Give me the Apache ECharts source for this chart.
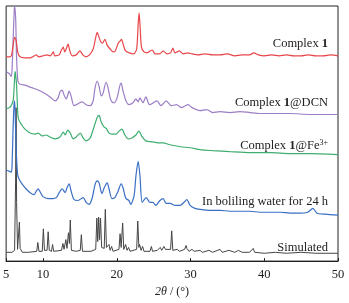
<!DOCTYPE html>
<html><head><meta charset="utf-8">
<script src="https://cdn.jsdelivr.net/npm/echarts@6/dist/echarts.min.js"></script>
<style>html,body{margin:0;padding:0;background:#fff}#c{width:349px;height:303px}</style>
</head><body><div id="c"></div>
<script>
// x: 2θ (°), y: intensity (a.u., offset stacked)
const tickValues = [5, 10, 20, 30, 40, 50];
const seriesNames = ['Complex 1', 'Complex 1@DCN', 'Complex 1@Fe3+', 'In boliling water for 24 h', 'Simulated'];

const complex1 = [[5.0,209],[5.5,209],[5.75,211],[5.95,221],[6.15,229],[6.35,226],[6.6,213],[6.9,209],[7.5,208],[8.3,208],[9.1,211],[9.4,209],[10.0,210],[10.5,211],[11.0,210],[11.4,214],[11.6,210],[12.2,211],[12.5,216],[12.75,219],[12.95,214],[13.15,217],[13.4,222],[13.65,215],[13.95,210],[14.5,211],[15.0,215],[15.4,211],[15.8,209],[16.3,211],[16.8,217],[17.1,227],[17.35,234],[17.6,229],[17.8,225],[18.05,223],[18.4,227],[18.7,221],[19.1,217],[19.5,214],[19.8,215],[20.2,223],[20.45,225],[20.65,227],[20.9,221],[21.2,215],[21.7,213],[22.3,212],[22.7,217],[22.9,242],[23.03,254],[23.15,242],[23.35,219],[23.7,214],[24.1,213],[24.8,216],[25.2,212],[25.8,212],[26.3,215],[26.8,212],[27.3,213],[27.6,218],[27.9,213],[28.5,215],[29.0,212],[29.6,213],[30.2,212],[31.0,211],[32,212],[33,211],[34,211],[35,212],[36,210],[37,211],[38,211],[38.6,213],[39.2,211],[40,210],[41,211],[42,210],[43,211],[44,210],[45,210],[46,211],[47,210],[48,210],[49,211],[50,210]];

const complexDCN = [[5.0,194],[5.4,192],[5.7,189],[5.8,195],[5.95,227],[6.1,257],[6.15,261],[6.3,247],[6.4,212],[6.6,184],[6.9,181],[7.6,180],[8.25,178],[8.65,177],[9.35,175],[10.15,172],[10.95,168],[11.65,164],[12.05,167],[12.3,173],[12.6,175],[12.85,170],[13.15,166],[13.55,174],[13.8,169],[14.2,159],[14.75,161],[15.3,163],[15.85,160],[16.4,159],[16.8,164],[17.05,177],[17.35,184],[17.6,179],[17.9,169],[18.15,172],[18.55,183],[18.8,178],[19.1,167],[19.35,163],[19.65,162],[20.05,167],[20.4,179],[20.6,182],[20.85,174],[21.25,164],[21.65,160],[22.2,162],[22.6,166],[22.9,163],[23.15,167],[23.55,162],[23.95,168],[24.45,160],[25.45,164],[26.0,159],[26.7,164],[27.4,159],[28.1,160],[28.8,157],[29.3,159],[29.7,160],[30.2,157],[31.3,154],[32.2,155],[33.0,152],[34.0,153],[35.35,152],[36.7,153],[38.05,152],[39.4,151],[40.8,151],[43.5,151],[46.2,150],[50,150]];

const complexFe = [[5.0,156],[5.4,157],[5.7,159],[5.9,163],[6.0,167],[6.15,187],[6.2,194],[6.25,193],[6.4,182],[6.6,149],[6.75,144],[7.15,139],[7.55,135],[8.25,131],[8.95,130],[9.35,131],[9.9,128],[10.4,129],[10.95,127],[11.65,125],[12.3,127],[12.75,132],[13.0,129],[13.35,134],[13.7,131],[14.1,125],[14.5,127],[15.05,131],[15.45,126],[15.85,123],[16.4,126],[16.9,137],[17.35,147],[17.6,149],[17.9,142],[18.3,137],[18.55,136],[18.95,131],[19.35,130],[19.9,130],[20.3,133],[20.7,135],[21.1,129],[21.55,125],[22.05,126],[22.6,129],[23.0,133],[23.45,127],[23.95,123],[24.8,122],[25.6,121],[26.3,121],[27.2,119],[28.6,117],[29.95,116],[31.3,114],[33.05,113],[35.35,112],[38.05,111],[40.8,111],[43.5,110],[46.2,110],[50,109]];

const boilingWater = [[5.0,93],[5.4,92],[5.7,91],[5.8,97],[5.95,137],[6.1,164],[6.2,157],[6.35,117],[6.55,89],[6.75,84],[7.15,79],[7.7,74],[8.25,70],[8.8,68],[9.05,71],[9.35,74],[9.6,71],[10.0,66],[10.7,64],[11.35,64],[11.8,65],[12.2,70],[12.6,74],[13.0,70],[13.25,75],[13.55,79],[13.8,72],[14.2,63],[14.75,62],[15.45,65],[15.85,60],[16.25,58],[16.65,64],[17.05,78],[17.35,82],[17.6,80],[18.0,69],[18.3,75],[18.7,80],[18.95,74],[19.35,64],[19.75,65],[20.15,71],[20.6,79],[20.85,75],[21.25,64],[21.65,62],[21.9,58],[22.35,67],[22.6,87],[22.9,102],[23.15,87],[23.45,60],[24.0,65],[24.5,60],[24.9,60],[25.3,57],[25.85,62],[26.3,64],[26.7,59],[27.25,59],[27.9,57],[28.6,57],[29.1,60],[29.5,63],[29.95,57],[30.6,54],[31.3,53],[32.65,52],[34.0,52],[35.35,51],[36.7,51],[38.05,51],[39.4,50],[40.8,50],[42.15,50],[43.5,49],[44.85,49],[45.9,50],[46.6,54],[47.15,49],[48.25,48],[50,47]];

const simulated = [[5.0,9],[5.8,9],[6.15,11],[6.28,80],[6.35,157],[6.42,60],[6.55,12],[6.7,14],[6.8,40],[6.9,13],[7.2,9],[8.0,9],[9.15,10],[9.3,19],[9.45,10],[9.9,10],[10.05,33],[10.2,11],[10.55,11],[10.7,30],[10.85,11],[11.15,10],[11.3,17],[11.45,10],[12.5,11],[12.7,18],[12.85,12],[13.1,22],[13.25,13],[13.45,29],[13.58,18],[13.7,42],[13.85,11],[14.5,10],[15.05,11],[15.2,27],[15.35,10],[16.5,10],[17.15,12],[17.3,44],[17.42,20],[17.55,45],[17.67,22],[17.8,44],[17.95,14],[18.3,13],[18.45,53],[18.6,14],[18.8,12],[18.95,17],[19.1,11],[19.3,15],[19.5,10],[20.3,12],[20.45,28],[20.6,14],[20.8,39],[20.95,12],[21.2,17],[21.4,11],[21.6,14],[21.8,10],[22.7,12],[22.85,41],[23.0,14],[23.1,17],[23.3,11],[23.5,15],[23.7,10],[24.5,10],[24.7,15],[24.85,10],[25.5,11],[25.9,14],[26.1,11],[26.4,15],[26.6,12],[27.3,12],[27.45,31],[27.6,11],[28.2,12],[28.5,10],[29.2,12],[29.4,16],[29.5,13],[29.6,15],[29.8,10],[30.2,12],[30.5,10],[31.3,11],[31.6,9],[32.5,11],[33.0,9],[34.0,12],[34.3,9],[35.2,11],[36.0,9],[36.5,11],[37.0,9],[38.0,9],[38.5,13],[38.7,9],[40.0,8],[41.5,9],[43.0,8],[45,9],[47,8],[50,8]];

const colors = ['#e8464a', '#9c7ec6', '#3dae6f', '#3a6fc4', '#454545'];
const seriesData = [complex1, complexDCN, complexFe, boilingWater, simulated];

const chart = echarts.init(document.getElementById('c'), null, {renderer: 'canvas'});
const serif = '"Liberation Serif", "DejaVu Serif", serif';

const series = seriesData.map((d, i) => ({
  type: 'line', name: seriesNames[i], data: d, showSymbol: false, symbol: 'none',
  smooth: i === 4 ? false : 0.25, sampling: null, animation: false,
  lineStyle: {color: colors[i], width: i === 4 ? 1 : 1.2}, z: 2 + (4 - i)
}));

const labelY = [44, 103, 146, 202, 248];
const labelTexts = [
  '{n|Complex }{b|1}',
  '{n|Complex }{b|1}{n|@DCN}',
  '{n|Complex }{b|1}{n|@Fe}{s|3+}',
  '{n|In boliling water for 24 h}',
  '{n|Simulated}'
];
const rich = {
  n: {fontFamily: serif, fontSize: 12.5, fill: '#222', lineHeight: 14},
  b: {fontFamily: serif, fontSize: 12.5, fontWeight: 'bold', fill: '#222', lineHeight: 14},
  s: {fontFamily: serif, fontSize: 8, fill: '#222', verticalAlign: 'top', lineHeight: 14}
};

chart.setOption({
  animation: false,
  backgroundColor: '#fff',
  grid: {left: 6, right: 11, top: 6, bottom: 36, show: true, borderColor: '#222', borderWidth: 1, backgroundColor: 'transparent'},
  xAxis: {
    type: 'value', min: 5, max: 50,
    axisLine: {show: true, onZero: false, lineStyle: {color: '#222', width: 1.2}},
    axisTick: {show: true, inside: true, length: 3, customValues: tickValues, lineStyle: {color: '#222'}},
    axisLabel: {customValues: tickValues, color: '#222', fontFamily: serif, fontSize: 12.5, margin: 7},
    splitLine: {show: false},
    name: '{i|2θ} / (°)', nameLocation: 'middle', nameGap: 22,
    nameTextStyle: {color: '#222', fontFamily: serif, fontSize: 12, rich: {i: {fontFamily: serif, fontSize: 12, fontStyle: 'italic', color: '#222'}}}
  },
  yAxis: {type: 'value', min: 0, max: 261, show: false, splitLine: {show: false}},
  series: series,
  graphic: labelTexts.map((t, i) => ({
    type: 'text', x: 328, y: labelY[i], z: 10,
    style: {text: t, rich: rich, align: 'right', verticalAlign: 'middle', fill: '#222'}
  }))
});
</script>
</body></html>
